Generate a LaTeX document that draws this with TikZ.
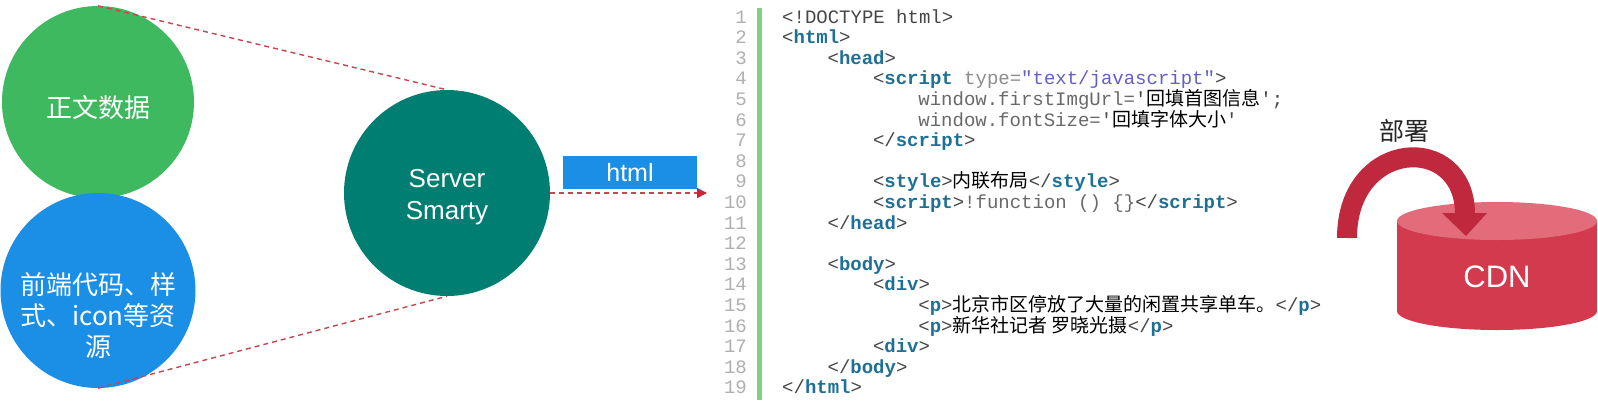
\documentclass[tikz,border=0pt]{standalone}
\usepackage{fontspec}
\setmainfont{Liberation Sans}
\setmonofont{Liberation Mono}
\newfontfamily\cjk{Noto Sans CJK SC}
\usetikzlibrary{arrows.meta}
\definecolor{cgreen}{RGB}{62,185,95}
\definecolor{cblue}{RGB}{27,142,229}
\definecolor{cteal}{RGB}{0,126,114}
\definecolor{dashred}{RGB}{196,70,80}
\definecolor{tipred}{RGB}{205,35,55}
\definecolor{barg}{RGB}{125,210,125}
\definecolor{lngray}{RGB}{175,175,175}
\definecolor{tagc}{RGB}{30,112,150}
\definecolor{brc}{RGB}{70,70,70}
\definecolor{attrc}{RGB}{140,140,140}
\definecolor{valc}{RGB}{100,95,200}
\definecolor{plc}{RGB}{105,105,105}
\definecolor{cylbody}{RGB}{212,58,78}
\definecolor{cyltop}{RGB}{226,108,122}
\definecolor{arrowc}{RGB}{192,40,62}
\newcommand\codefont{\fontsize{19}{20}\selectfont\ttfamily}
\newcommand\ctag[1]{\textcolor{tagc}{\bfseries #1}}
\newcommand\cbr[1]{\textcolor{brc}{#1}}
\newcommand\cattr[1]{\textcolor{attrc}{#1}}
\newcommand\cval[1]{\textcolor{valc}{#1}}
\newcommand\cpl[1]{\textcolor{plc}{#1}}
\newcommand\ccj[1]{{\cjk\color{black}#1}}
\begin{document}
\begin{tikzpicture}[x=1pt,y=-1pt,
  circ/.style={circle, inner sep=0pt, draw=none},
  dashcon/.style={draw=dashred, line width=1.4pt, dash pattern=on 5pt off 4pt},
  codetxt/.style={anchor=base west, inner sep=0pt, font=\codefont},
  lnum/.style={anchor=base east, inner sep=0pt, font=\codefont, text=lngray},
  cjlabel/.style={text=white, align=center, inner sep=0pt, font=\cjk\fontsize{26}{31}\selectfont},
  latlabel/.style={text=white, align=center, inner sep=0pt, font=\fontsize{26}{32}\selectfont}]
\useasboundingbox (0,0) rectangle (1598,400);
\fill[white] (0,0) rectangle (1598,400);
% left circles
\node[circ, fill=cgreen, minimum size=192pt] (green) at (98,102) {};
\node[circ, fill=cblue, minimum size=195pt] (blue) at (98,290.5) {};
\node[cjlabel] (greentext) at (98,108) {正文数据};
\node[cjlabel] (bluetext) at (98,316) {前端代码、样\\式、icon等资\\源};
% server
\node[circ, fill=cteal, minimum size=206pt] (server) at (447,193) {};
\node[latlabel] (servertext) at (447,197) {Server\\Smarty};
\draw[dashcon] (green.north) -- (server.north);
\draw[dashcon] (blue.south) -- (server.south);
% html arrow
\node[fill=cblue, minimum width=134pt, minimum height=33pt, inner sep=0pt,
      text=white, font=\fontsize{25}{25}\selectfont] (htmlbox) at (630,172.5) {html};
\coordinate (htmlend) at (707,193);
\draw[dashcon, -{Triangle[length=10pt,width=10pt,fill=tipred,color=tipred]}] (server.east) -- (htmlend);
% code area
\fill[barg] (757,8) rectangle (762,400);
\foreach \i in {1,...,19} \node[lnum] (ln\i) at (747,{23+(\i-1)*20.6}) {\i};
\node[codetxt] (c1) at (782,23) {\cbr{<!DOCTYPE html>}};
\node[codetxt] (c2) at (782,43.6) {\cbr{<}\ctag{html}\cbr{>}};
\node[codetxt] (c3) at (827.4,64.2) {\cbr{<}\ctag{head}\cbr{>}};
\node[codetxt] (c4) at (872.8,84.8) {\cbr{<}\ctag{script} \cattr{type=}\cval{"text/javascript"}\cbr{>}};
\node[codetxt] (c5) at (918.2,105.4) {\cpl{window.firstImgUrl=}\cbr{'}\ccj{回填首图信息}\cbr{';}};
\node[codetxt] (c6) at (918.2,126) {\cpl{window.fontSize=}\cbr{'}\ccj{回填字体大小}\cbr{'}};
\node[codetxt] (c7) at (872.8,146.6) {\cbr{</}\ctag{script}\cbr{>}};
\node[codetxt] (c9) at (872.8,187.8) {\cbr{<}\ctag{style}\cbr{>}\ccj{内联布局}\cbr{</}\ctag{style}\cbr{>}};
\node[codetxt] (c10) at (872.8,208.4) {\cbr{<}\ctag{script}\cbr{>}\cpl{!function () \{\}}\cbr{</}\ctag{script}\cbr{>}};
\node[codetxt] (c11) at (827.4,229) {\cbr{</}\ctag{head}\cbr{>}};
\node[codetxt] (c13) at (827.4,270.2) {\cbr{<}\ctag{body}\cbr{>}};
\node[codetxt] (c14) at (872.8,290.8) {\cbr{<}\ctag{div}\cbr{>}};
\node[codetxt] (c15) at (918.2,311.4) {\cbr{<}\ctag{p}\cbr{>}\ccj{北京市区停放了大量的闲置共享单车。}\cbr{</}\ctag{p}\cbr{>}};
\node[codetxt] (c16) at (918.2,332) {\cbr{<}\ctag{p}\cbr{>}\ccj{新华社记者 罗晓光摄}\cbr{</}\ctag{p}\cbr{>}};
\node[codetxt] (c17) at (872.8,352.6) {\cbr{<}\ctag{div}\cbr{>}};
\node[codetxt] (c18) at (827.4,373.2) {\cbr{</}\ctag{body}\cbr{>}};
\node[codetxt] (c19) at (782,393.8) {\cbr{</}\ctag{html}\cbr{>}};
% CDN cylinder
\fill[cylbody] (1397,221) rectangle (1597,311);
\fill[cylbody] (1497,311) ellipse [x radius=100, y radius=19];
\fill[cyltop] (1497,221) ellipse [x radius=100, y radius=19];
\node[latlabel, font=\fontsize{31}{31}\selectfont] (cdn) at (1497,277) {CDN};
% deploy arrow
\draw[arrowc, line width=20pt] (1347,238) .. controls (1347,138) and (1465,132) .. (1465,214);
\fill[arrowc] (1442,213) -- (1487,213) -- (1466,236) -- cycle;
\node[text=black!85, inner sep=0pt, font=\cjk\fontsize{25}{25}\selectfont] (deploy) at (1404,131) {部署};
\end{tikzpicture}
\end{document}
